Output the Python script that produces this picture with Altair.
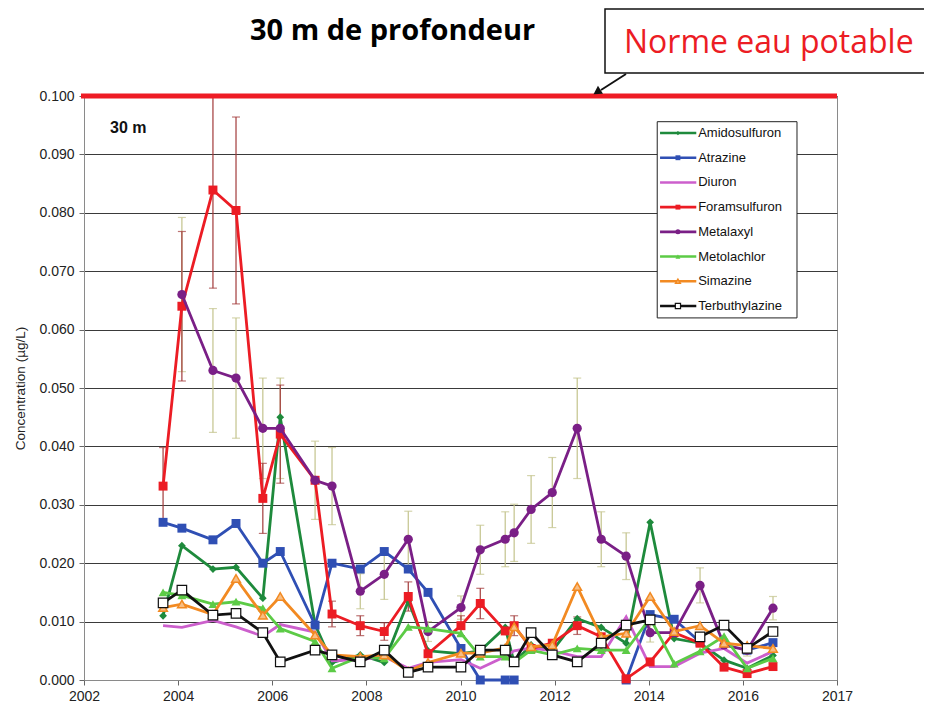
import altair as alt
import pandas as pd

# ---------------- data ----------------
years = [2003.68, 2004.08, 2004.74, 2005.23, 2005.80, 2006.17, 2006.91, 2007.27, 2007.87,
         2008.38, 2008.89, 2009.31, 2010.01, 2010.42, 2010.95, 2011.14, 2011.50, 2011.95,
         2012.48, 2012.99, 2013.52, 2014.03, 2014.54, 2015.09, 2015.60, 2016.09, 2016.64]

series = ["Amidosulfuron", "Atrazine", "Diuron", "Foramsulfuron", "Metalaxyl",
          "Metolachlor", "Simazine", "Terbuthylazine"]
colors = ["#1E8A3C", "#2F4FB4", "#CC5FCC", "#EC1C24", "#7A1F86", "#5CCB46", "#F28A22", "#111111"]

amidosulfuron = [0.011, 0.023, 0.019, 0.0193, 0.014, 0.045, 0.0095, 0.003, 0.0043, 0.003, 0.0135,
                 0.005, 0.0045, 0.005, 0.009, 0.003, 0.006, 0.005, 0.0105, 0.009, 0.0063, 0.027,
                 0.0071, 0.0063, 0.0034, 0.002, 0.0042]
atrazine = [0.027, 0.026, 0.024, 0.0268, 0.020, 0.022, 0.0094, 0.020, 0.019, 0.022, 0.019, 0.015,
            0.0054, 0.0, 0.0, 0.0, None, None, None, None, 0.0, 0.0112, 0.0104, 0.0065, None,
            0.0051, 0.0064]
diuron = [0.0093, 0.009, 0.0102, 0.0091, 0.0075, 0.0095, 0.0082, 0.0033, 0.0035, 0.004, 0.002,
          0.003, 0.0035, 0.002, 0.004, 0.005, 0.0055, 0.005, 0.004, 0.004, 0.0108, 0.0023, 0.0023,
          0.0046, 0.0054, 0.0029, 0.0049]
foramsulfuron = [0.0332, 0.064, 0.0839, 0.0804, 0.0311, 0.0421, 0.0342, 0.0113, 0.0093, 0.0083,
                 0.0143, 0.0045, 0.0093, 0.0131, 0.0084, 0.0093, 0.0054, 0.0063, 0.0093, 0.0074,
                 0.0002, 0.0031, 0.0081, 0.0063, 0.0022, 0.0011, 0.0023]
foramsulfuron_err = [0.0066, 0.0128, 0.0168, 0.016, 0.006, 0.0084, None, 0.0022, 0.0017, 0.0015,
                     0.0025, None, 0.0017, 0.0026, None, 0.0017, None, None, 0.0015, None,
                     None, None, None, None, None, None, None]
metalaxyl = [None, 0.066, 0.053, 0.0517, 0.0431, 0.0431, 0.0342, 0.0332, 0.0152, 0.0181, 0.0241,
             0.0083, 0.0124, 0.0223, 0.0241, 0.0252, 0.0292, 0.0321, 0.0431, 0.0241, 0.0212,
             0.0081, 0.0081, 0.0162, 0.006, 0.0051, 0.0123]
metalaxyl_err = [None, 0.0132, 0.0106, 0.0103, 0.0086, 0.0086, 0.0067, 0.0066, 0.003, 0.0043,
                 0.0048, 0.0017, 0.002, 0.0042, 0.0047, 0.0049, 0.0058, 0.006, 0.0086, 0.0047,
                 0.004, 0.0016, None, 0.003, None, 0.001, 0.002]
metolachlor = [0.015, 0.0145, 0.013, 0.0134, 0.0123, 0.0088, 0.0066, 0.002, 0.004, 0.0037, 0.0091,
               0.0088, 0.008, 0.004, 0.004, 0.003, 0.0051, 0.0043, 0.0054, 0.0051, 0.0051, 0.0106,
               0.0028, 0.0049, 0.0075, 0.002, 0.0037]
simazine = [0.0124, 0.013, 0.0112, 0.0174, 0.0111, 0.0143, 0.0077, 0.0043, 0.004, 0.0043, 0.0015,
            0.003, 0.0046, 0.0046, 0.0055, 0.0091, 0.0057, 0.006, 0.016, 0.0074, 0.008, 0.0143,
            0.0083, 0.0093, 0.0063, 0.0059, 0.0054]
terbuthylazine = [0.0132, 0.0154, 0.0111, 0.0114, 0.0081, 0.0031, 0.0051, 0.0043, 0.0031, 0.0051,
                  0.0013, 0.0022, 0.0022, 0.0051, 0.0051, 0.0031, 0.0081, 0.0043, 0.0031, 0.0063,
                  0.0094, 0.0103, None, 0.0074, 0.0094, 0.0054, 0.0083]

x_ticks = [2002, 2004, 2006, 2008, 2010, 2012, 2014, 2016, 2018]
y_ticks = [0.0, 0.01, 0.02, 0.03, 0.04, 0.05, 0.06, 0.07, 0.08, 0.09, 0.1]
norme = 0.1

all_vals = [amidosulfuron, atrazine, diuron, foramsulfuron, metalaxyl, metolachlor, simazine,
            terbuthylazine]

# ---------------- tables ----------------
rows = []
for name, vals in zip(series, all_vals):
    seg = 0
    for yr, v in zip(years, vals):
        if v is None:
            seg += 1
            continue
        rows.append({"series": name, "year": yr, "value": v, "seg": seg})
df = pd.DataFrame(rows)

err_rows = []
for name, vals, errs in [("Foramsulfuron", foramsulfuron, foramsulfuron_err),
                         ("Metalaxyl", metalaxyl, metalaxyl_err)]:
    for yr, v, e in zip(years, vals, errs):
        if v is None or e is None:
            continue
        err_rows.append({"series": name, "year": yr, "value": v, "err": e})
edf = pd.DataFrame(err_rows)

leg = pd.DataFrame({"series": series, "i": list(range(len(series)))})
dummy = pd.DataFrame({"a": [0]})

# ---------------- encodings ----------------
xscale = alt.Scale(domain=[2002, 2018], nice=False, zero=False)
yscale = alt.Scale(domain=[0, 0.1], nice=False, zero=True)
xaxis = alt.Axis(values=x_ticks, format="d", grid=False, title=None, tickSize=5,
                 labelPadding=4, labelFlush=False,
                 labelExpr="datum.value == 2018 ? '2017' : datum.label")
yaxis = alt.Axis(values=y_ticks, format=".3f", grid=True, title="Concentration  (µg/L)",
                 tickSize=5, labelPadding=5, titlePadding=11, labelFlush=False)

X = alt.X("year:Q", scale=xscale, axis=xaxis)
Y = alt.Y("value:Q", scale=yscale, axis=yaxis)

layers = []

# error bars
ecolor = {"Foramsulfuron": "#A23A3A", "Metalaxyl": "#C3C38C"}
for name in ["Metalaxyl", "Foramsulfuron"]:
    base = alt.Chart(edf).transform_filter(alt.datum.series == name).transform_calculate(
        lo="datum.value - datum.err", hi="datum.value + datum.err")
    layers.append(base.mark_rule(color=ecolor[name], strokeWidth=1.2, clip=True).encode(
        x=alt.X("year:Q", scale=xscale, axis=xaxis),
        y=alt.Y("lo:Q", scale=yscale, axis=yaxis), y2="hi:Q"))
    for f in ["lo", "hi"]:
        layers.append(base.mark_tick(color=ecolor[name], orient="horizontal", size=8,
                                     thickness=1.2, clip=True).encode(
            x=alt.X("year:Q", scale=xscale, axis=xaxis),
            y=alt.Y(f + ":Q", scale=yscale, axis=yaxis)))

# marker styles
mstyle = {
    "Amidosulfuron": dict(shape="diamond", size=60, filled=True),
    "Atrazine": dict(shape="square", size=80, filled=True),
    "Diuron": None,
    "Foramsulfuron": dict(shape="square", size=80, filled=True),
    "Metalaxyl": dict(shape="circle", size=85, filled=True),
    "Metolachlor": dict(shape="triangle-up", size=80, filled=True),
    "Simazine": dict(shape="triangle-up", size=75, filled=True, fill="#F8BE84",
                     stroke="#F28A22", strokeWidth=1.5),
    "Terbuthylazine": dict(shape="square", size=90, filled=False, fill="white",
                           stroke="#111111", strokeWidth=1.2),
}

for name, col in zip(series, colors):
    sub = alt.Chart(df).transform_filter(alt.datum.series == name)
    layers.append(sub.mark_line(color=col, strokeWidth=2.8).encode(x=X, y=Y, detail="seg:N"))
    st = mstyle[name]
    if st is not None:
        kw = dict(st)
        if "fill" not in kw:
            kw["color"] = col
        kw["opacity"] = 1
        layers.append(sub.mark_point(**kw).encode(x=X, y=Y))

# norm line
layers.append(alt.Chart(dummy).mark_rule(color="#EE1C25", strokeWidth=5).encode(
    x=alt.value(-3), x2=alt.value(753), y=alt.datum(norme, scale=yscale)))

# in-chart label
layers.append(alt.Chart(dummy).mark_text(text="30 m", font="Liberation Sans", fontSize=16,
                                         fontWeight="bold", align="left", baseline="middle",
                                         color="#111").encode(x=alt.value(26), y=alt.value(32)))

# legend box
layers.append(alt.Chart(dummy).mark_rect(fill="white", stroke="#222", strokeWidth=1).encode(
    x=alt.datum(2014.18, scale=xscale), x2=alt.datum(2017.15),
    y=alt.datum(0.0956, scale=yscale), y2=alt.datum(0.0620)))
legbase = alt.Chart(leg).transform_calculate(ly="0.09366 - datum.i * 0.00423")
layers.append(legbase.mark_rule(strokeWidth=2.6).encode(
    x=alt.datum(2014.24, scale=xscale), x2=alt.datum(2015.01),
    y=alt.Y("ly:Q", scale=yscale, axis=yaxis),
    color=alt.Color("series:N", scale=alt.Scale(domain=series, range=colors), legend=None)))
for name, col in zip(series, colors):
    st = mstyle[name]
    if st is None:
        continue
    kw = dict(st)
    kw["size"] = max(18, int(kw["size"] * 0.3))
    if "fill" not in kw:
        kw["color"] = col
    kw["opacity"] = 1
    layers.append(legbase.transform_filter(alt.datum.series == name).mark_point(**kw).encode(
        x=alt.datum(2014.62, scale=xscale), y=alt.Y("ly:Q", scale=yscale, axis=yaxis)))
layers.append(legbase.mark_text(align="left", baseline="middle", font="Liberation Sans",
                                fontSize=13, color="#111").encode(
    x=alt.datum(2015.05, scale=xscale), y=alt.Y("ly:Q", scale=yscale, axis=yaxis),
    text="series:N"))

# title
layers.append(alt.Chart(dummy).mark_text(text="30 m de profondeur", font="Open Sans",
                                         fontSize=29, fontWeight="bold", align="left",
                                         baseline="alphabetic", color="#000").encode(
    x=alt.value(166), y=alt.value(-56)))

# norme annotation box + arrow
layers.append(alt.Chart(dummy).mark_rect(fill="white", stroke="#111", strokeWidth=1.5).encode(
    x=alt.value(521), x2=alt.value(846), y=alt.value(-87), y2=alt.value(-23)))
layers.append(alt.Chart(dummy).mark_text(text="Norme eau potable", font="Open Sans",
                                         fontSize=32, align="left", baseline="alphabetic",
                                         color="#EC1C24").encode(
    x=alt.value(540), y=alt.value(-43)))
layers.append(alt.Chart(dummy).mark_rule(color="#111", strokeWidth=2).encode(
    x=alt.value(542), x2=alt.value(517), y=alt.value(-22), y2=alt.value(-6)))
layers.append(alt.Chart(dummy).mark_point(shape="triangle-up", filled=True, color="#111",
                                          size=90, angle=238, opacity=1).encode(
    x=alt.value(513), y=alt.value(-4)))

chart = alt.layer(*layers).properties(
    width=753, height=584,
    autosize=alt.AutoSizeParams(type="none"),
    padding={"left": 76, "top": 88, "right": 87, "bottom": 24},
).configure_view(stroke="#8a8a8a", strokeWidth=1).configure_axis(
    labelFont="Liberation Sans", labelFontSize=14, labelColor="#222",
    titleFont="Liberation Sans", titleFontSize=13.5, titleFontWeight="normal",
    titleColor="#222", tickColor="#666", domainColor="#8a8a8a",
    gridColor="#3a3a3a", gridWidth=1)

chart.save("out.html", embed_options={"renderer": "svg", "actions": False})
